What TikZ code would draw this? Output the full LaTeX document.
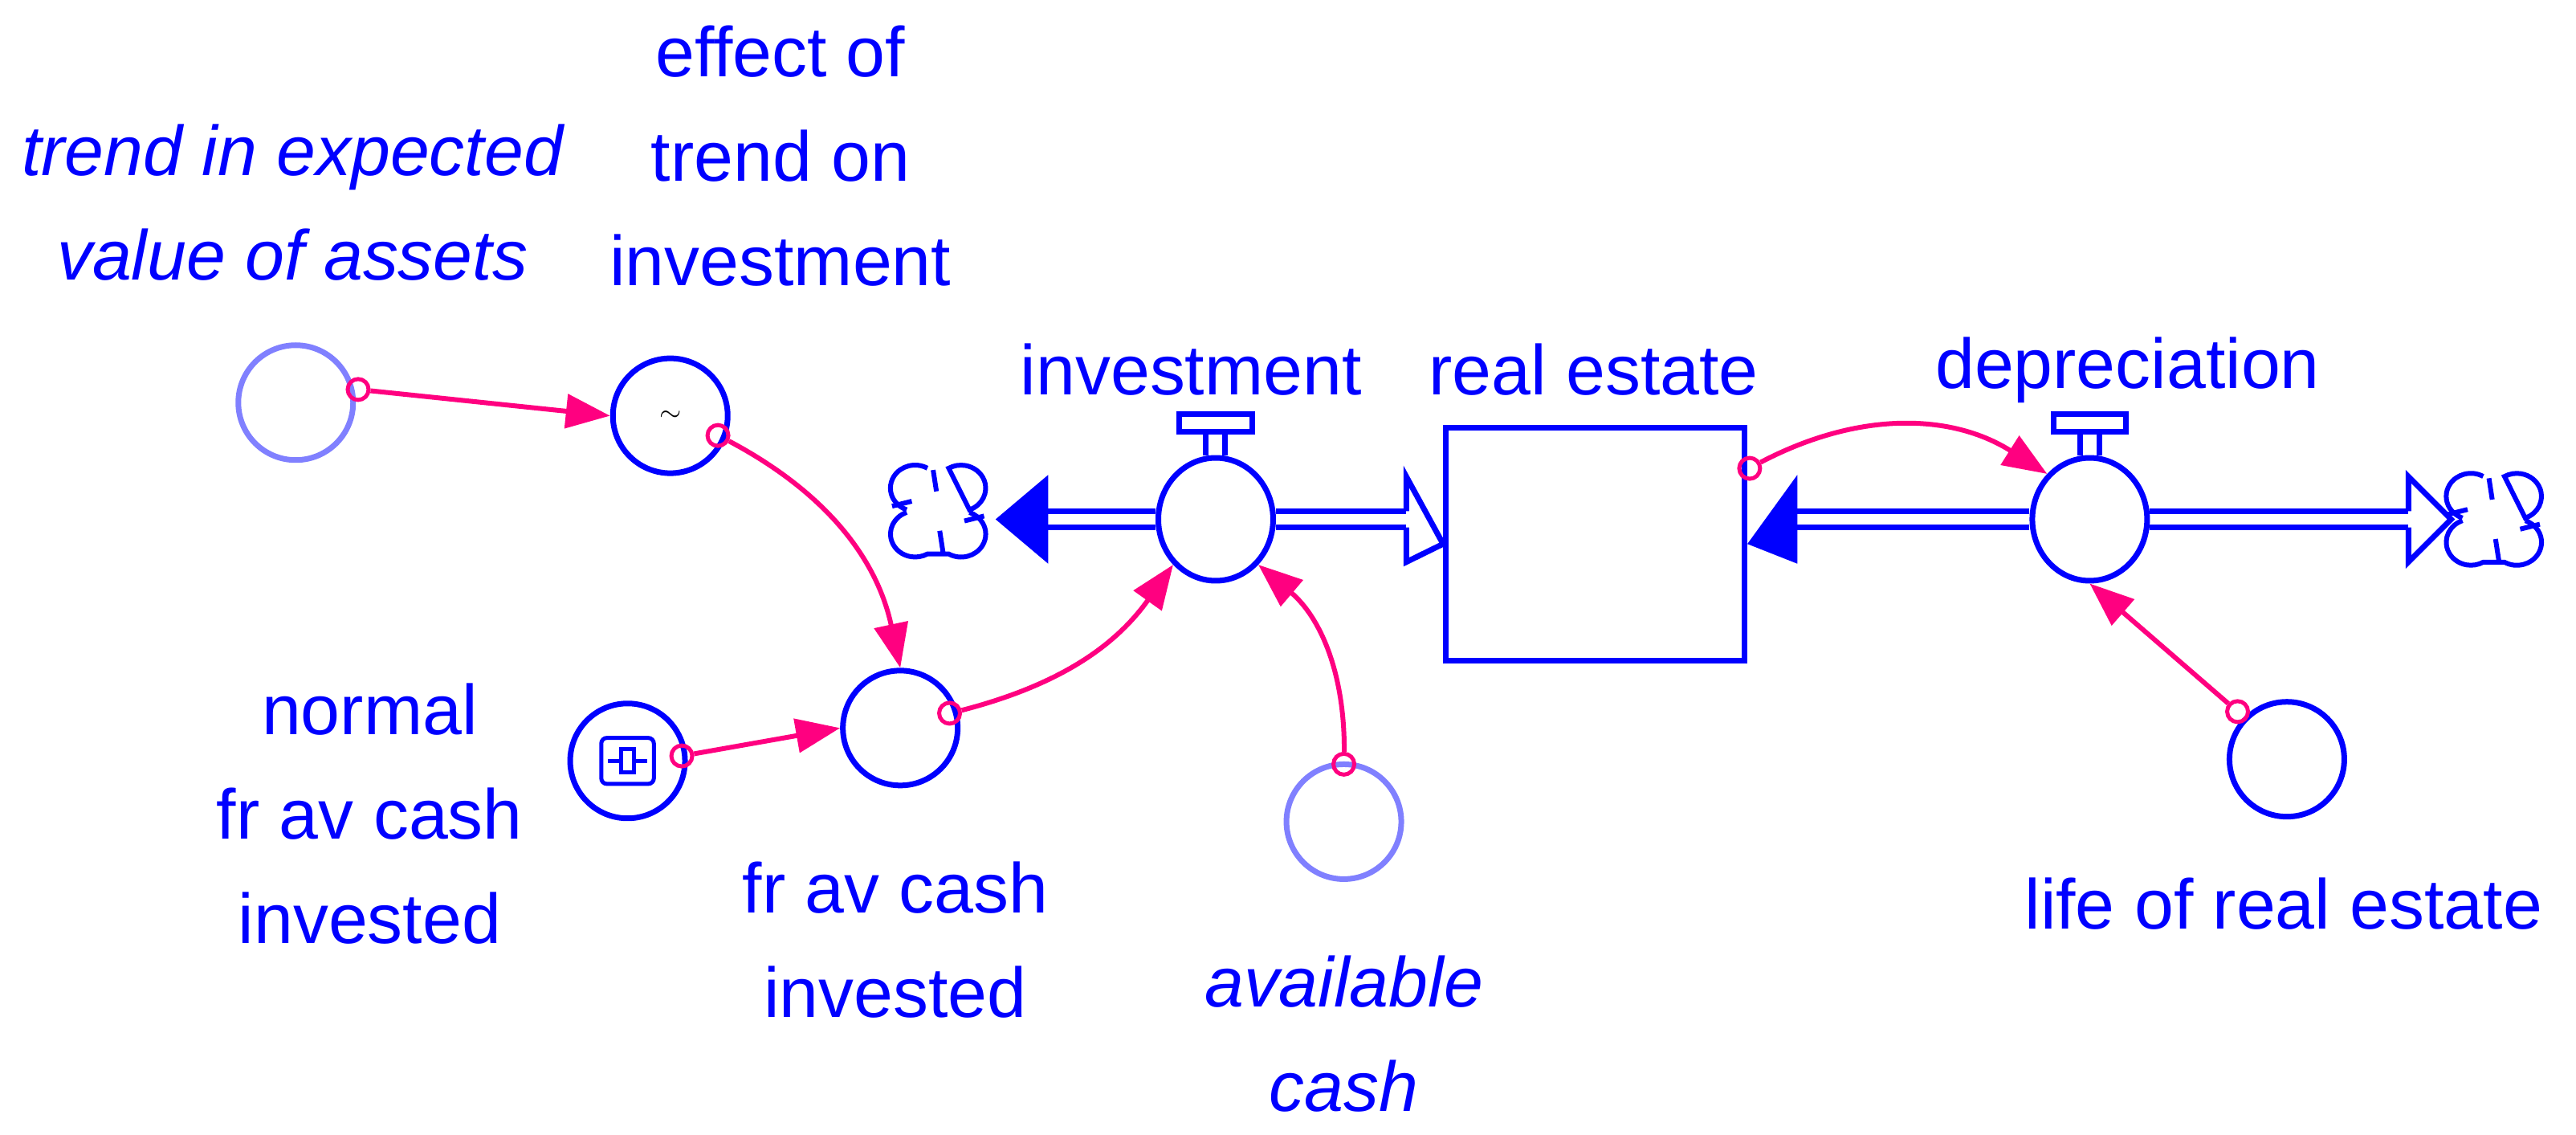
\documentclass[tikz,border=0pt]{standalone}
\usepackage{fontspec}
\setmainfont{Liberation Sans}
\usetikzlibrary{arrows.meta,shapes.geometric}
\definecolor{vblue}{RGB}{0,0,255}
\definecolor{vlight}{RGB}{128,128,255}
\definecolor{vpink}{RGB}{255,0,128}
\tikzset{
  aux/.style={circle, draw=vblue, line width=0.07cm, minimum size=1.43cm, inner sep=0pt},
  lightaux/.style={aux, draw=vlight},
  lbl/.style={text=vblue, font=\fontsize{25}{37}\selectfont, align=center},
  link/.style={vpink, line width=0.06cm, -{Triangle[length=0.55cm,width=0.42cm]}},
  tail/.style={circle, draw=vpink, line width=0.05cm, minimum size=0.26cm, inner sep=0pt},
  pipe/.style={vblue, line width=0.07cm},
}
\begin{document}
\begin{tikzpicture}[x=0.02046cm, y=-0.02046cm]
  \useasboundingbox (0,0) rectangle (1568,690.6);
  % auxiliaries
  \node[lightaux] (trend) at (180,245) {};
  \node[aux] (effect) at (408,253) {\fontsize{10}{10}\selectfont$\sim$};
  \node[aux] (frav) at (548,443) {};
  \node[aux] (normal) at (382,463) {};
  \node[lightaux] (cash) at (818,500) {};
  \node[aux] (life) at (1392,462) {};
  % normal is a constant with a slider
  \draw[vblue, line width=0.05cm, rounded corners=2pt] (366,449) rectangle (398,477);
  \draw[vblue, line width=0.05cm] (370,463) -- (394,463);
  \draw[vblue, line width=0.05cm, fill=white] (378,456) rectangle (386,470);
  % stock
  \node[draw=vblue, line width=0.07cm, minimum width=3.72cm, minimum height=2.9cm] (stock) at (971,331) {};
  % valves
  \node[aux, ellipse, minimum width=1.43cm, minimum height=1.53cm] (inv) at (740,316) {};
  \node[aux, ellipse, minimum width=1.43cm, minimum height=1.53cm] (dep) at (1272,316) {};
  \foreach \v in {inv,dep} {
    \draw[pipe] ([xshift=-0.12cm]\v.north) -- ++(0,-14) ([xshift=0.12cm]\v.north) -- ++(0,-14);
    \draw[pipe] ([shift={(-22,-14)}]\v.north) rectangle ([shift={(22,-25)}]\v.north);
  }
  % clouds
  \foreach \cx/\cy [count=\i] in {571/311, 1518/316} {
    \coordinate (cloud\i) at (\cx,\cy);
    \begin{scope}[shift={(\cx,\cy)}, yscale=-1, vblue, line width=0.06cm]
      \draw (-6.5,26.1) arc[start angle=60, end angle=250, x radius=15, y radius=14]
            (-19.1,-0.8) arc[start angle=110, end angle=300, x radius=15, y radius=14]
            -- (6.5,-26.1) arc[start angle=240, end angle=430, x radius=15, y radius=14]
            (19.1,0.8) arc[start angle=-70, end angle=120, x radius=15, y radius=14] -- cycle;
      \draw (-28,3) -- (-16,6) (28,-3) -- (16,-6) (-3,25) -- (-1,12) (3,-25) -- (1,-12);
    \end{scope}
  }
  % flows
  \draw[pipe] (inv.west) ++(0,-5) -- (638,311) (inv.west) ++(0,5) -- (638,321);
  \fill[vblue] (606,316) -- (638,289) -- (638,343) -- cycle;
  \draw[pipe] (inv.east) ++(0,-5) -- (856,311) (inv.east) ++(0,5) -- (856,321);
  \draw[pipe] (856,311) -- (856,290) -- (stock.west) -- (856,342) -- (856,321);
  \draw[pipe] (dep.west) ++(0,-5) -- (1094,311) (dep.west) ++(0,5) -- (1094,321);
  \fill[vblue] (stock.east) -- (1094,289) -- (1094,343) -- cycle;
  \draw[pipe] (dep.east) ++(0,-5) -- (1466,311) (dep.east) ++(0,5) -- (1466,321);
  \draw[pipe] (1466,311) -- (1466,290) -- (1492,316) -- (1466,342) -- (1466,321);
  % links
  \node[tail] (t1) at (218,237) {};
  \node[tail] (t2) at (437,265) {};
  \node[tail] (t3) at (415,460) {};
  \node[tail] (t4) at (578,434) {};
  \node[tail] (t5) at (818,465) {};
  \node[tail] (t6) at (1065,285) {};
  \node[tail] (t7) at (1362,433) {};
  \draw[link] (t1) -- (effect.west);
  \draw[link] (t2) to[bend left=25] (frav.north);
  \draw[link] (t3) -- (frav.west);
  \draw[link] (t4) to[bend right=20] (inv.south west);
  \draw[link] (t5) to[bend right=25] (inv.south east);
  \draw[link] (t6) to[bend left=30] (dep.north west);
  \draw[link] (t7) -- (dep.south);
  % labels
  \node[lbl, font=\fontsize{25}{37}\selectfont\itshape] (ltrend) at (178,123) {trend in expected\\value of assets};
  \node[lbl] (leffect) at (475,95) {effect of\\trend on\\investment};
  \node[lbl] (linv) at (725,225) {investment};
  \node[lbl] (lstock) at (970,225) {real estate};
  \node[lbl] (ldep) at (1295,225) {depreciation};
  \node[lbl] (lnormal) at (225,495) {normal\\fr av cash\\invested};
  \node[lbl] (lfrav) at (545,572) {fr av cash\\invested};
  \node[lbl, font=\fontsize{25}{37}\selectfont\itshape] (lcash) at (818,629) {available\\cash};
  \node[lbl] (llife) at (1390,550) {life of real estate};
\end{tikzpicture}
\end{document}
